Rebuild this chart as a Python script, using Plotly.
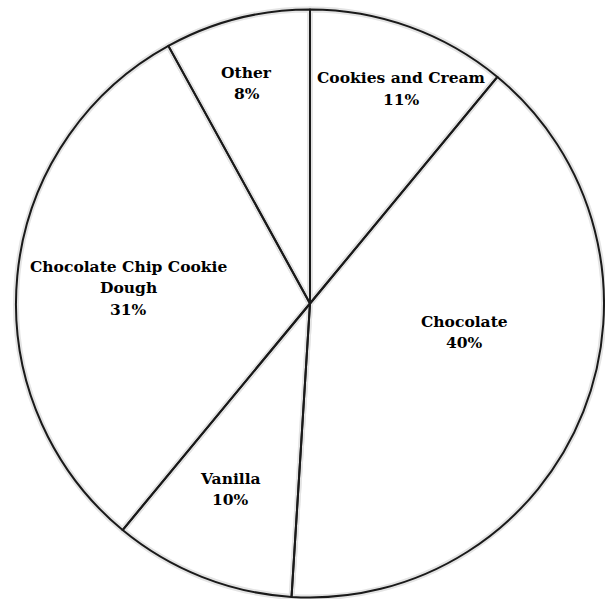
import math
import plotly.graph_objects as go

labels = ["Cookies and Cream", "Chocolate", "Vanilla", "Chocolate Chip Cookie<br>Dough", "Other"]
values = [11, 40, 10, 31, 8]

# label placement styling (radial fraction and angular nudge, degrees)
label_rfrac = [0.795, 0.534, 0.687, 0.621, 0.781]
label_nudge = [3.3, -11.2, 1.6, -0.4, -1.6]

W, H = 605, 599
cx, cy, R = 310, 303.5, 294
LINE_PITCH = 21.5
domain = dict(x=[(cx - R) / W, (cx + R) / W], y=[1 - (cy + R) / H, 1 - (cy - R) / H])

common = dict(
    values=values, labels=labels, sort=False, direction="clockwise", rotation=0,
    textinfo="none", hoverinfo="none", showlegend=False, domain=domain,
)

fig = go.Figure()
# soft gray halo under the edges
fig.add_trace(go.Pie(marker=dict(colors=["white"] * len(values),
                                 line=dict(color="#e4e4e4", width=6)), **common))
# crisp dark edges
fig.add_trace(go.Pie(marker=dict(colors=["rgba(0,0,0,0)"] * len(values),
                                 line=dict(color="#1a1a1a", width=2)), **common))

total = sum(values)
cum = 0
annotations = []
for lab, v, rf, nd in zip(labels, values, label_rfrac, label_nudge):
    mid = (cum + v / 2) / total * 360 + nd
    cum += v
    a = math.radians(mid)
    px = cx + rf * R * math.sin(a)
    py = cy - rf * R * math.cos(a)
    pct = round(v / total * 100)
    lines = lab.split("<br>") + [f"{pct}%"]
    n = len(lines)
    for i, line in enumerate(lines):
        ly = py + (i - (n - 1) / 2) * LINE_PITCH
        annotations.append(dict(
            x=px / W, y=1 - ly / H, xref="paper", yref="paper",
            text=line, showarrow=False, xanchor="center", yanchor="middle",
            font=dict(family="DejaVu Serif", size=15.5, color="black", weight="bold"),
        ))

fig.update_layout(
    width=W, height=H,
    margin=dict(l=0, r=0, t=0, b=0),
    paper_bgcolor="white",
    plot_bgcolor="white",
    annotations=annotations,
)

fig.write_html("out.html")
